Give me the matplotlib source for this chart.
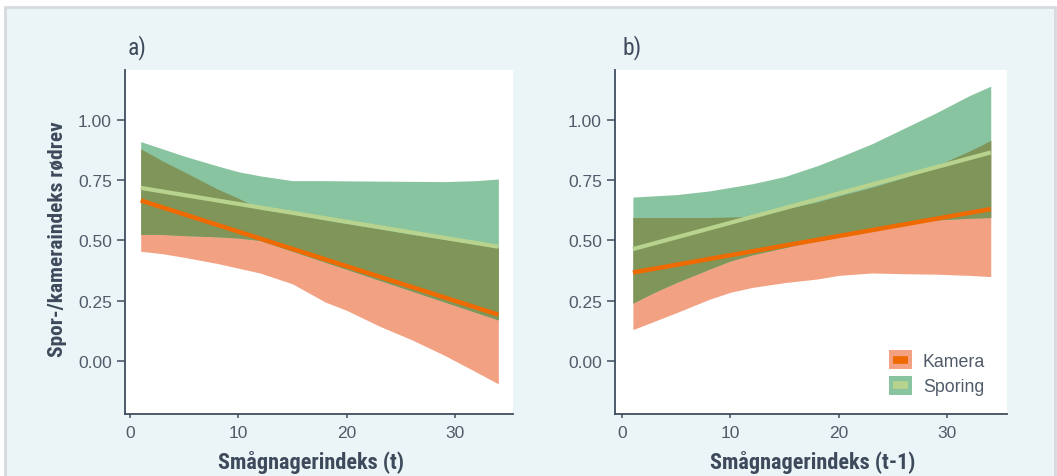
import numpy as np
import matplotlib
matplotlib.use("Agg")
import matplotlib.pyplot as plt
from matplotlib.patches import Rectangle
from matplotlib.lines import Line2D

# ---------------- data ----------------
x_grid = [1, 3, 5, 8, 10, 12, 15, 18, 20, 23, 26, 29, 32, 34]

# panel a: Smågnagerindeks (t)
a_kamera_line = [0.666, 0.192]            # at x=1 and x=34
a_sporing_line = [0.718, 0.474]
a_kamera_upper = [0.88, 0.83, 0.785, 0.715, 0.675, 0.63, 0.61, 0.585, 0.57, 0.548, 0.525, 0.505, 0.485, 0.47]
a_kamera_lower = [0.455, 0.445, 0.43, 0.405, 0.385, 0.365, 0.32, 0.245, 0.21, 0.145, 0.088, 0.024, -0.047, -0.095]
a_sporing_upper = [0.91, 0.88, 0.85, 0.81, 0.785, 0.768, 0.748, 0.748, 0.747, 0.746, 0.745, 0.744, 0.748, 0.755]
a_sporing_lower = [0.525, 0.525, 0.52, 0.515, 0.51, 0.5, 0.455, 0.41, 0.38, 0.335, 0.29, 0.245, 0.2, 0.17]

# panel b: Smågnagerindeks (t-1)
b_kamera_line = [0.367, 0.63]
b_sporing_line = [0.464, 0.865]
b_kamera_upper = [0.595, 0.595, 0.595, 0.595, 0.597, 0.6, 0.63, 0.66, 0.685, 0.72, 0.76, 0.81, 0.87, 0.915]
b_kamera_lower = [0.13, 0.165, 0.2, 0.255, 0.285, 0.305, 0.325, 0.34, 0.355, 0.365, 0.362, 0.36, 0.355, 0.35]
b_sporing_upper = [0.68, 0.685, 0.69, 0.705, 0.72, 0.735, 0.765, 0.81, 0.845, 0.9, 0.965, 1.03, 1.1, 1.14]
b_sporing_lower = [0.24, 0.285, 0.325, 0.38, 0.415, 0.44, 0.47, 0.5, 0.52, 0.55, 0.57, 0.585, 0.592, 0.595]

line_x = [1, 34]
x_ticks = [0, 10, 20, 30]
y_ticks = [0.00, 0.25, 0.50, 0.75, 1.00]
y_ticklabels = ["0.00", "0.25", "0.50", "0.75", "1.00"]
panel_labels = ["a)", "b)"]
x_labels = ["Smågnagerindeks (t)", "Smågnagerindeks (t-1)"]
y_label = "Spor-/kameraindeks rødrev"
series_names = ["Kamera", "Sporing"]

# ---------------- style ----------------
SALMON = "#F2A283"
GREEN = "#88C49F"
OLIVE = "#7F9559"
ORANGE = "#EE6A00"
PALE = "#B8D38D"
BG = "#EBF5F7"
SPINE = "#3F4D5E"
TICKC = "#505B69"
LABELC = "#3D4A5C"

narrow = ["Liberation Sans Narrow", "Roboto Condensed", "Roboto", "DejaVu Sans"]
sans = ["Liberation Sans", "DejaVu Sans"]


class LegendKey:
    def __init__(self, face, line):
        self.face = face
        self.line = line


class LegendKeyHandler:
    def legend_artist(self, legend, orig_handle, fontsize, handlebox):
        x0, y0 = -handlebox.xdescent, -handlebox.ydescent
        w, h = handlebox.width, handlebox.height
        tr = handlebox.get_transform()
        rect = Rectangle((x0, y0), w, h, facecolor=orig_handle.face, edgecolor="none", transform=tr)
        ln = Line2D([x0 + 0.18 * w, x0 + 0.82 * w], [y0 + h / 2, y0 + h / 2],
                    color=orig_handle.line, lw=5.5, solid_capstyle="butt", transform=tr)
        handlebox.add_artist(rect)
        handlebox.add_artist(ln)
        return rect


fig = plt.figure(figsize=(10.57, 4.77), dpi=100)
fig.patch.set_facecolor("white")
fig.patches.append(Rectangle((5 / 1057, -0.05), 1050 / 1057, 1 - 8 / 477 + 0.05,
                             transform=fig.transFigure, facecolor=BG,
                             edgecolor="#D6DADF", linewidth=2, zorder=-10))

ax_a = fig.add_axes([125 / 1057, 62 / 477, 388 / 1057, 344 / 477])
ax_b = fig.add_axes([615 / 1057, 62 / 477, 392 / 1057, 344 / 477])

panels = [
    (ax_a, a_kamera_line, a_sporing_line, a_kamera_upper, a_kamera_lower,
     a_sporing_upper, a_sporing_lower, (-0.45, 35.35)),
    (ax_b, b_kamera_line, b_sporing_line, b_kamera_upper, b_kamera_lower,
     b_sporing_upper, b_sporing_lower, (-0.65, 35.5)),
]

for i, (ax, kl, sl, ku, kd, su, sd, xlim) in enumerate(panels):
    x = np.array(x_grid, dtype=float)
    ku, kd, su, sd = map(np.array, (ku, kd, su, sd))
    ax.set_facecolor("white")
    ax.fill_between(x, kd, ku, color=SALMON, lw=0, zorder=1)
    ax.fill_between(x, sd, su, color=GREEN, lw=0, zorder=2)
    lo = np.maximum(kd, sd)
    hi = np.minimum(ku, su)
    ax.fill_between(x, lo, hi, where=hi > lo, interpolate=True, color=OLIVE, lw=0, zorder=3)
    ax.plot(line_x, sl, color=PALE, lw=3.0, solid_capstyle="butt", zorder=4)
    ax.plot(line_x, kl, color=ORANGE, lw=3.2, solid_capstyle="butt", zorder=5)

    ax.set_xlim(*xlim)
    ax.set_ylim(-0.22, 1.207)
    ax.set_xticks(x_ticks)
    ax.set_yticks(y_ticks)
    ax.set_yticklabels(y_ticklabels)
    for s in ["top", "right"]:
        ax.spines[s].set_visible(False)
    for s in ["left", "bottom"]:
        ax.spines[s].set_color(SPINE)
        ax.spines[s].set_linewidth(1.3)
    ax.tick_params(axis="both", colors=SPINE, width=1.1, labelcolor=TICKC, labelsize=12.5)
    ax.tick_params(axis="y", length=6, pad=3.5)
    ax.tick_params(axis="x", length=3, pad=5)
    for lab in ax.get_xticklabels() + ax.get_yticklabels():
        lab.set_family(sans)

    ax.set_xlabel(x_labels[i], family=narrow, fontweight="bold", fontsize=16, color=LABELC)
    ax.xaxis.set_label_coords(0.48 if i == 0 else 0.505, -0.105)

ax_a.set_ylabel(y_label, family=narrow, fontweight="bold", fontsize=15.4, color=LABELC)
ax_a.yaxis.set_label_coords(-0.15, 0.51)

fig.text(128 / 1057, 1 - 48 / 477, panel_labels[0], family=narrow, fontsize=17,
         color=LABELC, va="center", ha="left")
fig.text(622 / 1057, 1 - 48 / 477, panel_labels[1], family=narrow, fontsize=17,
         color=LABELC, va="center", ha="left")

handles = [LegendKey(SALMON, ORANGE), LegendKey(GREEN, PALE)]
leg = ax_b.legend(handles, series_names, handler_map={LegendKey: LegendKeyHandler()},
                  loc="upper left", bbox_to_anchor=(0.699, 0.185), frameon=False,
                  handlelength=1.3, handleheight=1.24,
                  handletextpad=0.6, labelspacing=0.35, borderpad=0, borderaxespad=0,
                  labelcolor=TICKC, prop={"family": sans, "size": 12.8})

fig.savefig("out.png", dpi=100, facecolor=fig.get_facecolor())
